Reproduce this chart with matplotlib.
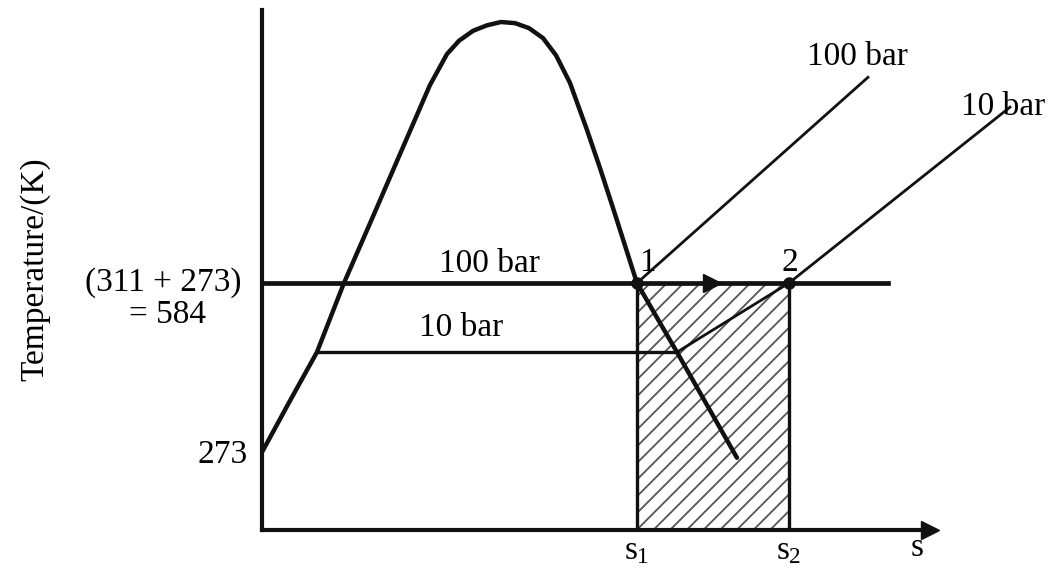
import matplotlib
matplotlib.use("Agg")
import matplotlib.pyplot as plt
from matplotlib.patches import Rectangle

plt.rcParams["font.family"] = ["Liberation Serif", "DejaVu Serif"]
plt.rcParams["mathtext.fontset"] = "custom"
plt.rcParams["mathtext.rm"] = "Liberation Serif"
plt.rcParams["mathtext.it"] = "Liberation Serif"
plt.rcParams["hatch.linewidth"] = 1.3

# saturation dome (entropy s in arbitrary units, temperature in K)
dome_s = [0.00, 0.28, 0.55, 0.82, 1.10, 1.38, 1.68, 1.85, 1.97, 2.11, 2.25,
          2.39, 2.53, 2.67, 2.81, 2.94, 3.08, 3.25, 3.38, 3.51, 3.75, 4.15, 4.75]
dome_T = [278, 371, 459, 584, 700, 817, 942, 998, 1022, 1040, 1050,
          1056, 1054, 1045, 1027, 996, 946, 861, 792, 720, 584, 459, 268]

# constant-pressure lines
T_100bar = 584
T_10bar = 459
line100_s = [0.0, 6.26]
line10_s = [0.55, 4.15]
super100_s = [3.75, 6.06]
super100_T = [584, 956]
super10_s = [4.15, 5.27, 7.48]
super10_T = [459, 584, 902]

s1 = 3.75
s2 = 5.27
arrow_s = 4.50
T_ticks = [273, 584]

ink = "#111111"

fig = plt.figure(figsize=(10.52, 5.72), dpi=100)
ax = fig.add_axes([0.2490, 0.0734, 0.635, 0.909])
ax.set_xlim(0, 6.68)
ax.set_ylim(137.4, 1077.6)

for side in ("top", "right"):
    ax.spines[side].set_visible(False)
for side in ("left", "bottom"):
    ax.spines[side].set_linewidth(3.0)
    ax.spines[side].set_color(ink)
ax.set_xticks([])
ax.set_yticks([])
ax.plot(1, 0, marker=">", markersize=13, color=ink, transform=ax.transAxes,
        clip_on=False)

# shaded area under the expansion path, between s1 and s2
y0 = ax.get_ylim()[0]
ax.add_patch(Rectangle((s1, y0), s2 - s1, T_100bar - y0, fill=False,
                       hatch="//", edgecolor="#555555", linewidth=0))
ax.vlines([s1, s2], y0, T_100bar, color=ink, linewidth=2.4)

ax.plot(dome_s, dome_T, color=ink, linewidth=3.2, solid_joinstyle="round",
        solid_capstyle="round")
ax.plot(line100_s, [T_100bar, T_100bar], color=ink, linewidth=3.4)
ax.plot(line10_s, [T_10bar, T_10bar], color=ink, linewidth=2.4)
ax.plot(super100_s, super100_T, color=ink, linewidth=2.0, clip_on=False)
ax.plot(super10_s, super10_T, color=ink, linewidth=2.0, clip_on=False)

ax.plot([s1, s2], [T_100bar, T_100bar], "o", color=ink, markersize=8)
ax.plot(arrow_s, T_100bar, marker=">", markersize=13, color=ink)

fs = 24
ax.text(3.85, 620, "1", fontsize=fs, ha="center", va="center")
ax.text(5.28, 620, "2", fontsize=fs, ha="center", va="center")
ax.text(2.27, 618, "100 bar", fontsize=fs, ha="center", va="center")
ax.text(1.99, 504, "10 bar", fontsize=fs, ha="center", va="center")
ax.text(5.95, 994, "100 bar", fontsize=fs, ha="center", va="center")
ax.text(7.41, 902, "10 bar", fontsize=fs, ha="center", va="center")

ax.text(-0.14, T_ticks[0], f"{T_ticks[0]}", fontsize=fs, ha="right", va="center")
ax.text(-0.99, T_ticks[1], "(311 + 273)", fontsize=fs, ha="center", va="center")
ax.text(-0.94, 526, f"= {T_ticks[1]}", fontsize=fs, ha="center", va="center")

ax.text(s1, 100, r"$s_1$", fontsize=fs, ha="center", va="center")
ax.text(s2, 100, r"$s_2$", fontsize=fs, ha="center", va="center")
ax.text(6.55, 105, "s", fontsize=fs, ha="center", va="center")

fig.text(35 / 1052, 1 - 269 / 572, "Temperature/(K)", fontsize=fs,
         rotation=90, ha="center", va="center")

fig.savefig("out.png", dpi=100)
